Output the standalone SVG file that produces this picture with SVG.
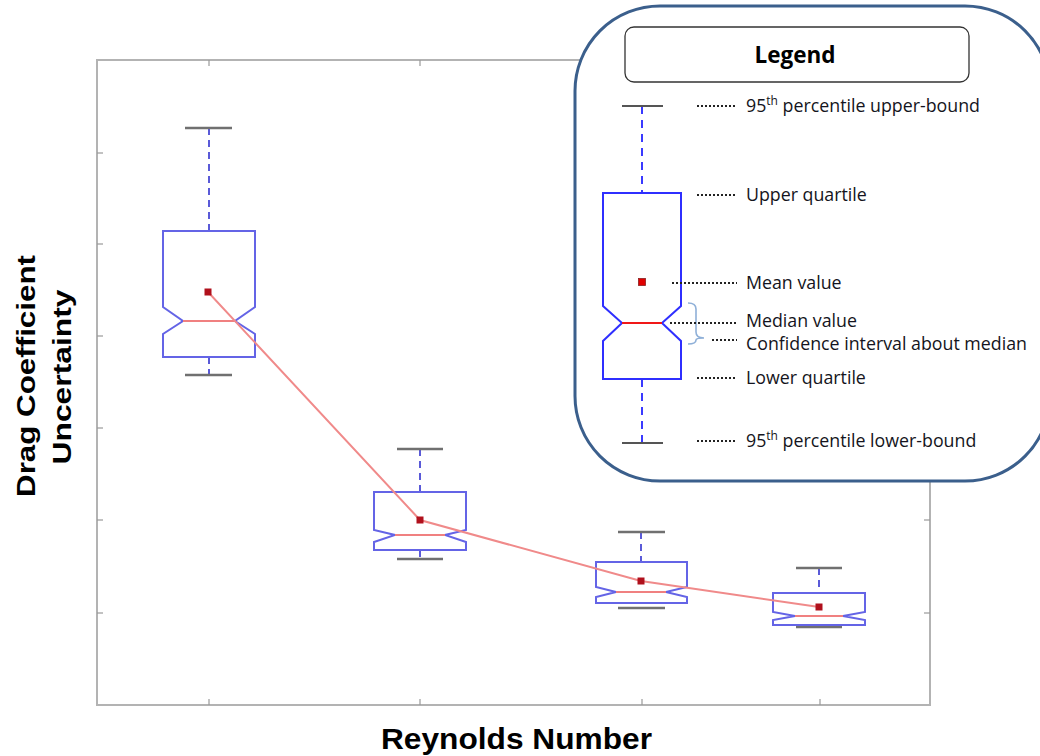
<svg xmlns="http://www.w3.org/2000/svg" width="1040" height="756" viewBox="0 0 1040 756">
<style>
.frame{fill:none;stroke:#b3b3b3;stroke-width:2}
.tick{stroke:#999;stroke-width:1.2}
.box{fill:none;stroke:#6464e6;stroke-width:2}
.wh{stroke:#5a5ad8;stroke-width:2;stroke-dasharray:7 5}
.cap{stroke:#707070;stroke-width:2.5}
.med{stroke:#f08080;stroke-width:2}
.mean{fill:#b0101c}
.trend{fill:none;stroke:#f08a8a;stroke-width:2}
.lbox{fill:none;stroke:#2f2fff;stroke-width:2}
.lwh{stroke:#3a3aff;stroke-width:2;stroke-dasharray:8 6}
.lcap{stroke:#555;stroke-width:2}
.dot{stroke:#222;stroke-width:2;stroke-dasharray:2 2}
.lt{font-family:"Open Sans","Liberation Sans",sans-serif;font-size:17.8px;fill:#141420}
.sup{font-size:12px}
.ax{font-family:"Liberation Sans",Arial,sans-serif;font-weight:bold;fill:#000}
</style>
<rect width="1040" height="756" fill="#fff"/>
<g id="plot-frame">
<rect class="frame" x="97" y="60" width="833" height="645"/>
<g class="tick">
<line x1="209" y1="60" x2="209" y2="66"/><line x1="420" y1="60" x2="420" y2="66"/>
<line x1="209" y1="705" x2="209" y2="699"/><line x1="420" y1="705" x2="420" y2="699"/><line x1="642" y1="705" x2="642" y2="699"/><line x1="820" y1="705" x2="820" y2="699"/>
<line x1="97" y1="153" x2="103" y2="153"/><line x1="97" y1="244" x2="103" y2="244"/><line x1="97" y1="336" x2="103" y2="336"/><line x1="97" y1="428" x2="103" y2="428"/><line x1="97" y1="520" x2="103" y2="520"/><line x1="97" y1="613" x2="103" y2="613"/>
<line x1="930" y1="520" x2="924" y2="520"/><line x1="930" y1="613" x2="924" y2="613"/>
</g>
</g>
<g id="box1">
<line class="wh" x1="209" y1="128" x2="209" y2="231"/>
<line class="wh" x1="209" y1="357" x2="209" y2="375"/>
<line class="cap" x1="185" y1="128" x2="232" y2="128"/>
<line class="cap" x1="185" y1="375" x2="232" y2="375"/>
<path class="box" d="M163 231 H255 V307 L235 321 L255 334 V357 H163 V334 L183 321 L163 307 Z"/>
<line class="med" x1="183" y1="321" x2="235" y2="321"/>
</g>
<g id="box2">
<line class="wh" x1="420" y1="449" x2="420" y2="492"/>
<line class="wh" x1="420" y1="550" x2="420" y2="559"/>
<line class="cap" x1="397" y1="449" x2="443" y2="449"/>
<line class="cap" x1="397" y1="559" x2="443" y2="559"/>
<path class="box" d="M374 492 H466 V530 L445 535 L466 542 V550 H374 V542 L395 535 L374 530 Z"/>
<line class="med" x1="395" y1="535" x2="445" y2="535"/>
</g>
<g id="box3">
<line class="wh" x1="641" y1="532" x2="641" y2="562"/>
<line class="cap" x1="618" y1="532" x2="665" y2="532"/>
<line class="cap" x1="618" y1="608" x2="665" y2="608"/>
<path class="box" d="M596 562 H687 V587 L666 592 L687 597 V603 H596 V597 L616 592 L596 587 Z"/>
<line class="med" x1="616" y1="592" x2="666" y2="592"/>
</g>
<g id="box4">
<line class="wh" x1="819" y1="568" x2="819" y2="593"/>
<line class="cap" x1="796" y1="568" x2="842" y2="568"/>
<line class="cap" x1="796" y1="627" x2="842" y2="627"/>
<path class="box" d="M773 593 H865 V612 L843 616 L865 620 V625 H773 V620 L795 616 L773 612 Z"/>
<line class="med" x1="795" y1="616" x2="843" y2="616"/>
</g>
<g id="connectors">
<polyline class="trend" points="208,292 420,520 641,581 819,607"/>
</g>
<g id="means">
<rect class="mean" x="204.5" y="288.5" width="7" height="7"/>
<rect class="mean" x="416.5" y="516.5" width="7" height="7"/>
<rect class="mean" x="637.5" y="577.5" width="7" height="7"/>
<rect class="mean" x="815.5" y="603.5" width="7" height="7"/>
</g>
<g id="y-label">
<text class="ax" font-size="26" text-anchor="middle" transform="translate(35,376) rotate(-90)" textLength="242" lengthAdjust="spacingAndGlyphs">Drag Coefficient</text>
<text class="ax" font-size="26" text-anchor="middle" transform="translate(71,377) rotate(-90)" textLength="175" lengthAdjust="spacingAndGlyphs">Uncertainty</text>
</g>
<g id="x-label">
<text class="ax" font-size="29" x="381" y="749" textLength="271" lengthAdjust="spacingAndGlyphs">Reynolds Number</text>
</g>
<g id="legend">
<rect x="575" y="6" width="475" height="475" rx="85" ry="85" fill="#fff" stroke="#3b5f8c" stroke-width="3"/>
<rect x="625" y="27" width="344" height="55" rx="9" fill="#fff" stroke="#333" stroke-width="1.3"/>
<text x="795" y="63" text-anchor="middle" font-family="'Open Sans','Liberation Sans',sans-serif" font-weight="bold" font-size="22.5" fill="#000">Legend</text>
<line class="lwh" x1="642" y1="106" x2="642" y2="193"/>
<line class="lwh" x1="642" y1="379" x2="642" y2="443"/>
<line class="lcap" x1="622" y1="106" x2="663" y2="106"/>
<line class="lcap" x1="622" y1="443" x2="663" y2="443"/>
<path class="lbox" d="M603 193 H681 V306 L662 323 L681 341 V379 H603 V341 L622 323 L603 306 Z"/>
<line x1="622" y1="323" x2="662" y2="323" stroke="#f01818" stroke-width="2"/>
<rect x="638.5" y="278.5" width="7" height="7" fill="#e00000" stroke="#8a2020" stroke-width="0.8"/>
<path d="M688 303 Q696 303 696 309 V332 Q696 338 704 338 Q696 338 696 340 Q696 344 688 344" fill="none" stroke="#8fb0d8" stroke-width="1.6"/>
<line class="dot" x1="697" y1="106" x2="737" y2="106"/>
<line class="dot" x1="697" y1="195" x2="737" y2="195"/>
<line class="dot" x1="672" y1="283" x2="737" y2="283"/>
<line class="dot" x1="670" y1="323" x2="737" y2="323"/>
<line class="dot" x1="712" y1="340" x2="737" y2="340"/>
<line class="dot" x1="697" y1="378" x2="737" y2="378"/>
<line class="dot" x1="697" y1="441" x2="737" y2="441"/>
<text class="lt" x="746" y="112">95<tspan class="sup" dy="-7">th</tspan><tspan dy="7"> percentile upper-bound</tspan></text>
<text class="lt" x="746" y="201">Upper quartile</text>
<text class="lt" x="746" y="289">Mean value</text>
<text class="lt" x="746" y="327">Median value</text>
<text class="lt" x="746" y="350">Confidence interval about median</text>
<text class="lt" x="746" y="384">Lower quartile</text>
<text class="lt" x="746" y="447">95<tspan class="sup" dy="-7">th</tspan><tspan dy="7"> percentile lower-bound</tspan></text>
</g>
</svg>
